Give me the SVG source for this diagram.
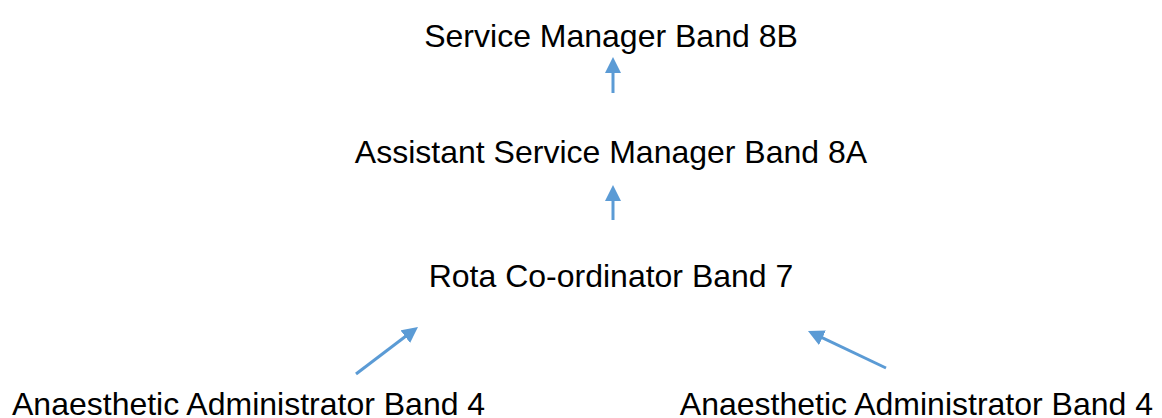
<svg xmlns="http://www.w3.org/2000/svg" width="1162" height="418" viewBox="0 0 1162 418">
  <style>
    .lbl { font-family: "Liberation Sans", Arial, sans-serif; font-size: 32px; fill: #000000; }
    .conn { stroke: #5B9BD5; stroke-width: 3; fill: none; marker-end: url(#arrow); }
  </style>
  <defs>
    <marker id="arrow" markerUnits="userSpaceOnUse" markerWidth="16" markerHeight="16" viewBox="0 0 16 16" refX="8" refY="8" orient="auto">
      <path d="M0,0 L16,8 L0,16 z" fill="#5B9BD5"/>
    </marker>
  </defs>
  <rect x="0" y="0" width="1162" height="418" fill="#ffffff"/>
  <g id="node-service-manager">
    <text class="lbl" x="611" y="47" text-anchor="middle">Service Manager Band 8B</text>
  </g>
  <g id="node-assistant-service-manager">
    <text class="lbl" x="611" y="163" text-anchor="middle">Assistant Service Manager Band 8A</text>
  </g>
  <g id="node-rota-coordinator">
    <text class="lbl" x="611" y="287" text-anchor="middle">Rota Co-ordinator Band 7</text>
  </g>
  <g id="node-admin-left">
    <text class="lbl" x="12" y="415">Anaesthetic Administrator Band 4</text>
  </g>
  <g id="node-admin-right">
    <text class="lbl" x="1153" y="415" text-anchor="end">Anaesthetic Administrator Band 4</text>
  </g>
  <g id="connectors">
    <line class="conn" x1="613" y1="93" x2="613" y2="65"/>
    <line class="conn" x1="613" y1="220" x2="613" y2="193"/>
    <line class="conn" x1="356" y1="374" x2="411.6" y2="331.8"/>
    <line class="conn" x1="886" y1="368" x2="815.2" y2="334.4"/>
  </g>
</svg>
